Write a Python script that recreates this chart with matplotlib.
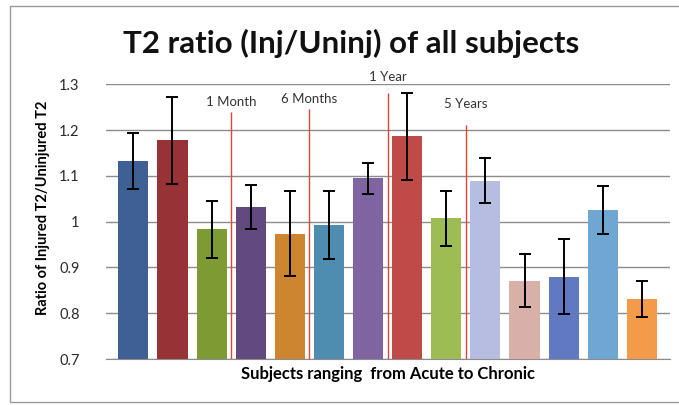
import matplotlib.pyplot as plt
from matplotlib.patches import Rectangle

# valores
subjects = list(range(14))
ratios = [1.132, 1.178, 0.983, 1.032, 0.974, 0.993, 1.095,
          1.187, 1.007, 1.089, 0.871, 0.880, 1.025, 0.831]
errors = [0.061, 0.095, 0.062, 0.048, 0.093, 0.075, 0.034,
          0.095, 0.060, 0.049, 0.058, 0.082, 0.053, 0.040]
colors = ['#3F6094', '#973336', '#7E9A33', '#634A7E', '#CE8530', '#4E8CB0', '#8064A2',
          '#BE4B48', '#9DBD54', '#B7BDE0', '#D9B0A8', '#6079C0', '#6EA8D2', '#F39B48']

marcos = ['1 Month', '6 Months', '1 Year', '5 Years']
marcos_x = [2.5, 4.5, 6.5, 8.5]
marcos_topo = [1.239, 1.247, 1.280, 1.211]
marcos_texto_y = [1.262, 1.267, 1.315, 1.256]

plt.rcParams['font.family'] = ['Lato', 'DejaVu Sans']

fig = plt.figure(figsize=(6.79, 4.05), dpi=100)
ax = fig.add_axes([106 / 679, 1 - 359 / 405, 564 / 679, (359 - 84.3) / 405])

fig.patches.append(Rectangle((10 / 679, 3 / 405), 0.99, 396 / 405, transform=fig.transFigure,
                             fill=False, edgecolor='#9a9a9a', linewidth=1))

ax.set_ylim(0.7, 1.3)
ax.set_xlim(-0.7, 13.72)
ax.set_yticks([0.7, 0.8, 0.9, 1.0, 1.1, 1.2, 1.3])
ax.set_yticklabels(['0.7', '0.8', '0.9', '1', '1.1', '1.2', '1.3'])
ax.set_xticks([])
ax.grid(axis='y', color='#8c8c8c', linewidth=1)
ax.set_axisbelow(True)
for s in ['top', 'right', 'left']:
    ax.spines[s].set_visible(False)
ax.spines['bottom'].set_color('#8c8c8c')
ax.tick_params(axis='y', length=0, pad=19, labelsize=10.5, labelcolor='#2a2a2a')

ax.bar(subjects, [r - 0.7 for r in ratios], bottom=0.7, width=0.77, color=colors, zorder=2)
ax.errorbar(subjects, ratios, yerr=errors, fmt='none', ecolor='black',
            elinewidth=1.4, capsize=4, capthick=1.4, zorder=3)

ax.vlines(marcos_x, 0.7, marcos_topo, color='#E2433F', linewidth=1, zorder=4)
for nome, x, y in zip(marcos, marcos_x, marcos_texto_y):
    ax.text(x, y, nome, ha='center', va='center', fontsize=9.5, color='#333333')

fig.text(351 / 679, 1 - 43 / 405, 'T2 ratio (Inj/Uninj) of all subjects',
         ha='center', va='center', fontsize=22.5, fontweight='bold', color='#111111')
ax.set_ylabel('Ratio of Injured T2/Uninjured T2', fontsize=10.5, fontweight='bold')
ax.yaxis.set_label_coords(-0.1, 0.55)
ax.set_xlabel('Subjects ranging  from Acute to Chronic', fontsize=12, fontweight='bold', labelpad=5)

fig.savefig('out.png', dpi=100)
